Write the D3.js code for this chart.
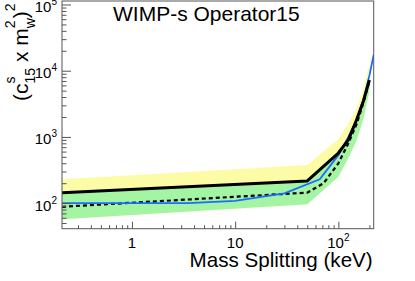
<!DOCTYPE html>
<html>
<head>
<meta charset="utf-8">
<script src="https://cdn.jsdelivr.net/npm/d3@7"></script>
<style>
  body { margin: 0; background: #fff; }
  svg { display: block; font-family: "Liberation Sans", Arial, sans-serif; }
</style>
</head>
<body>
<script>
// mass splitting (keV) and limits
const bandMass = [0.21, 50, 100, 125, 150, 175, 200];
const yellowUpper = [229, 376, 930, 1600, 2700, 5500, 12500];
const greenUpper = [140, 212, 560, 870, 1700, 3300, 7000];
const bandLower = [57, 96, 250, 480, 880, 1900, 5000];

const observedMass = [0.21, 50, 100, 125, 150, 175, 200];
const observed = [143, 216, 571, 900, 1800, 3500, 7240];

const expectedMass = [0.21, 50, 72, 100, 125, 150, 175, 200];
const expected = [88, 144, 200, 399, 800, 1550, 3300, 7000];

const blueMass = [0.21, 3.5, 10, 30, 66, 100, 125, 150, 175, 200, 220];
const blueLimit = [100, 100, 108, 140, 229, 530, 1000, 1800, 3700, 8500, 17500];

const xMajor = [1, 10, 100];
const xMajorLabels = [["1", ""], ["10", ""], ["10", "2"]];
const yMajor = [1e2, 1e3, 1e4, 1e5];
const yMajorExp = ["2", "3", "4", "5"];

const width = 415, height = 281;
const frame = {left: 62, right: 373.7, top: 1, bottom: 228.7};

const svg = d3.select('body').append('svg')
  .attr('width', width)
  .attr('height', height);

const x = d3.scaleLog().domain([0.21, 220]).range([frame.left, frame.right]);
const y = d3.scaleLog().domain([41.05, 1.13e5]).range([frame.bottom, frame.top]);

svg.append('clipPath').attr('id', 'clip')
  .append('rect')
  .attr('x', frame.left).attr('y', frame.top)
  .attr('width', frame.right - frame.left)
  .attr('height', frame.bottom - frame.top);

const plot = svg.append('g').attr('clip-path', 'url(#clip)');

const zip = (xs, ys) => xs.map((v, i) => [v, ys[i]]);

const area = (lo, hi) => d3.area()
  .x((d, i) => x(bandMass[i]))
  .y0((d, i) => y(lo[i]))
  .y1((d, i) => y(hi[i]))(bandMass);

plot.append('path').attr('d', area(bandLower, yellowUpper)).attr('fill', '#fdfca6');
plot.append('path').attr('d', area(bandLower, greenUpper)).attr('fill', '#a3f5a3');

const line = d3.line().x((d) => x(d[0])).y((d) => y(d[1]));

plot.append('path').attr('d', line(zip(expectedMass, expected)))
  .attr('fill', 'none').attr('stroke', '#000').attr('stroke-width', 2.2)
  .attr('stroke-dasharray', '4,3');
plot.append('path').attr('d', line(zip(blueMass, blueLimit)))
  .attr('fill', 'none').attr('stroke', '#1b6cff').attr('stroke-width', 1.8);
plot.append('path').attr('d', line(zip(observedMass, observed)))
  .attr('fill', 'none').attr('stroke', '#000').attr('stroke-width', 3)
  .attr('stroke-linejoin', 'round');

// frame
svg.append('rect')
  .attr('x', frame.left).attr('y', frame.top)
  .attr('width', frame.right - frame.left)
  .attr('height', frame.bottom - frame.top)
  .attr('fill', 'none').attr('stroke', '#555').attr('stroke-width', 1);

// minor tick positions
const xMinor = [];
[0.1, 1, 10, 100].forEach((d) => {
  for (let k = 2; k <= 9; k++) {
    const v = d * k;
    if (v >= 0.21 && v <= 220) xMinor.push(v);
  }
});
const yMinor = [];
[10, 100, 1000, 1e4].forEach((d) => {
  for (let k = 2; k <= 9; k++) {
    const v = d * k;
    if (v >= 41.05 && v <= 1e5) yMinor.push(v);
  }
});

const styleAxis = (g) => {
  g.select('.domain').remove();
  g.selectAll('.tick line').attr('stroke', '#555');
  g.selectAll('.tick text').remove();
};

svg.append('g').attr('transform', `translate(0,${frame.bottom})`)
  .call(d3.axisTop(x).tickValues(xMajor).tickSize(7).tickFormat(''))
  .call(styleAxis);
svg.append('g').attr('transform', `translate(0,${frame.bottom})`)
  .call(d3.axisTop(x).tickValues(xMinor).tickSize(3.5).tickFormat(''))
  .call(styleAxis);
svg.append('g').attr('transform', `translate(${frame.left},0)`)
  .call(d3.axisRight(y).tickValues(yMajor).tickSize(9).tickFormat(''))
  .call(styleAxis);
svg.append('g').attr('transform', `translate(${frame.left},0)`)
  .call(d3.axisRight(y).tickValues(yMinor).tickSize(4.5).tickFormat(''))
  .call(styleAxis);

// tick labels
xMajor.forEach((v, i) => {
  const t = svg.append('text')
    .attr('x', x(v)).attr('y', 248)
    .attr('text-anchor', 'middle')
    .attr('font-size', 15);
  t.append('tspan').text(xMajorLabels[i][0]);
  if (xMajorLabels[i][1]) {
    t.append('tspan').attr('font-size', 10).attr('dy', -7).text(xMajorLabels[i][1]);
  }
});

yMajor.forEach((v, i) => {
  const t = svg.append('text')
    .attr('x', 57).attr('y', y(v) + 7.5)
    .attr('text-anchor', 'end')
    .attr('font-size', 15);
  t.append('tspan').text('10');
  t.append('tspan').attr('font-size', 10).attr('dy', -7).text(yMajorExp[i]);
});

// titles
svg.append('text')
  .attr('x', 113).attr('y', 21)
  .attr('font-size', 21)
  .text('WIMP-s Operator15');

svg.append('text')
  .attr('x', frame.right - 1).attr('y', 267)
  .attr('text-anchor', 'end')
  .attr('font-size', 20.6)
  .text('Mass Splitting (keV)');

const yt = svg.append('text')
  .attr('transform', 'translate(28,101) rotate(-90)')
  .attr('font-size', 21);
yt.append('tspan').text('(c');
yt.append('tspan').attr('font-size', 14).attr('dy', -13).text('s');
yt.append('tspan').attr('font-size', 14).attr('dx', -7).attr('dy', 20).text('15');
yt.append('tspan').attr('dy', -7).text(' x m');
yt.append('tspan').attr('font-size', 14).attr('dy', -13).text('2');
yt.append('tspan').attr('font-size', 14).attr('dx', -7.8).attr('dy', 20).text('w');
yt.append('tspan').attr('dy', -7).text(')');
yt.append('tspan').attr('font-size', 14).attr('dy', -13).text('2');
</script>
</body>
</html>
